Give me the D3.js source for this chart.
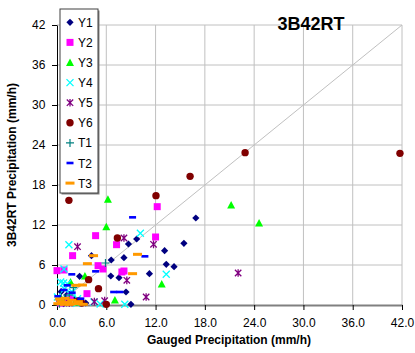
<!DOCTYPE html>
<html>
<head>
<meta charset="utf-8">
<script src="https://cdn.jsdelivr.net/npm/d3@7"></script>
<style>
  body { margin: 0; background: #fff; }
  svg { font-family: Arial, "Liberation Sans", sans-serif; }
</style>
</head>
<body>
<svg width="415" height="353"></svg>
<script>
// tick labels
var xTicks = [0, 6, 12, 18, 24, 30, 36, 42];
var yTicks = [0, 6, 12, 18, 24, 30, 36, 42];

// series values, [gauged, 3B42RT]
var seriesNames = ["Y1", "Y2", "Y3", "Y4", "Y5", "Y6", "T1", "T2", "T3"];
var y1 = [[4.2,7.4],[6.6,6.75],[8.15,7.1],[8.7,9.15],[9.7,9.9],[13.1,8.15],[15.45,9.25],[16.9,13.05],
  [13.3,6.1],[14.25,5.75],[11.25,4.7],[2.75,4.3],[6.55,4.35],[7.55,4.1],[8.4,1.95],[9.0,0.1],
  [0.3,0.6],[1.2,1.5],[0.8,0.2],[2.1,0.9],[3.5,0.3],[0.5,2.0]];
var y2 = [[12.2,14.75],[4.7,10.4],[12.0,10.2],[7.25,9.05],[1.9,7.4],[5.0,5.9],[5.6,5.4],[0.0,5.15],
  [0.85,5.25],[7.9,4.95],[8.15,5.1],[3.65,1.7],[1.0,0.6],[1.6,1.2],[0.4,0.3]];
var y3 = [[6.2,15.85],[6.0,11.75],[21.2,15.0],[24.6,12.3],[12.75,3.15],[3.4,4.35],[1.65,3.45],[7.05,0.75],
  [0.5,1.0],[0.3,0.5],[2.2,0.4]];
var y4 = [[1.45,9.05],[10.15,10.75],[13.3,4.6],[8.25,0.1],[0.85,5.4],[0.8,3.3],[0.45,3.45],[1.25,3.2],
  [1.85,1.95],[0.05,1.2],[2.5,0.95],[4.5,0.45],[1.6,1.8],[2.4,0.25],[5.25,0.15],[0.9,2.4]];
var y5 = [[2.5,8.75],[8.15,10.05],[11.75,9.1],[8.5,3.7],[10.85,1.2],[22.05,4.8],[4.55,0.5],[5.8,0.65],[1.5,0.3]];
var y6 = [[1.45,15.7],[7.35,10.05],[12.05,16.4],[16.2,19.3],[22.9,22.85],[41.75,22.75],[3.85,3.8],[5.05,2.45],
  [6.0,0.1],[3.0,0.3],[2.6,0.6]];
var t1 = [[5.9,6.3],[2.0,2.6],[0.9,1.0],[0.3,0.2],[1.5,1.5]];
var t2 = [[9.2,13.15],[10.7,7.3],[4.7,5.05],[1.8,4.6],[6.9,1.95],[7.65,1.95],[0.1,1.3],[1.85,1.85],
  [0.85,2.25],[2.9,0.95],[1.25,2.95]];
var t3 = [[4.45,7.4],[9.8,7.6],[3.7,6.2],[9.2,4.7],[3.1,3.0],[2.3,2.95],[0.1,0.2],[0.5,0.5],[0.9,0.1],
  [1.3,0.4],[1.8,0.7],[2.2,0.2],[2.6,0.5],[0.3,0.9],[1.0,1.0],[3.2,0.1],[1.6,0.1]];
var seriesData = [y1, y2, y3, y4, y5, y6, t1, t2, t3];
var seriesColors = ["#000080", "#ff00ff", "#00ff00", "#00ffff", "#800080", "#800000", "#008080", "#0000ff", "#ff9900"];
var seriesMarkers = ["diamond", "square", "triangle", "x", "star", "circle", "plus", "dash", "bigdash"];

var svg = d3.select("svg");
var margin = {top: 25, right: 13, bottom: 48, left: 57};
var width = 415 - margin.left - margin.right;
var height = 353 - margin.top - margin.bottom;

var x = d3.scaleLinear().domain([0, 42]).range([0, width]);
var y = d3.scaleLinear().domain([0, 42]).range([height, 0]);

var g = svg.append("g").attr("transform", "translate(" + margin.left + "," + margin.top + ")");

// gridlines
g.selectAll(".vgrid").data(xTicks.slice(1)).enter().append("line")
  .attr("x1", function(d) { return x(d); }).attr("x2", function(d) { return x(d); })
  .attr("y1", 0).attr("y2", height)
  .attr("stroke", "#c0c0c0").attr("stroke-width", 1);
g.selectAll(".hgrid").data(yTicks.slice(1)).enter().append("line")
  .attr("x1", 0).attr("x2", width)
  .attr("y1", function(d) { return y(d); }).attr("y2", function(d) { return y(d); })
  .attr("stroke", "#c0c0c0").attr("stroke-width", 1);

// 1:1 line
g.append("line")
  .attr("x1", x(0)).attr("y1", y(0)).attr("x2", x(42)).attr("y2", y(42))
  .attr("stroke", "#c0c0c0").attr("stroke-width", 1);

// axes
var xAxis = g.append("g").attr("transform", "translate(0," + height + ")")
  .call(d3.axisBottom(x).tickValues(xTicks).tickFormat(d3.format(".1f")).tickSize(5).tickSizeOuter(0));
xAxis.select(".domain").attr("stroke", "#808080").attr("stroke-width", 2);
xAxis.selectAll("text").attr("font-size", "12px").attr("fill", "#000").attr("dy", "1.2em");

var yAxis = g.append("g")
  .call(d3.axisLeft(y).tickValues(yTicks).tickSize(5).tickSizeOuter(0));
yAxis.select(".domain").attr("stroke", "#000");
yAxis.selectAll("text").attr("font-size", "12px").attr("fill", "#000").attr("dx", "-0.3em");

function drawMarker(sel, type, color) {
  if (type == "diamond") {
    sel.append("path").attr("d", "M0,-3.6L3.6,0L0,3.6L-3.6,0Z").attr("fill", color);
  } else if (type == "square") {
    sel.append("rect").attr("x", -3.5).attr("y", -3.5).attr("width", 7).attr("height", 7).attr("fill", color);
  } else if (type == "triangle") {
    sel.append("path").attr("d", "M0,-4L4,3.5L-4,3.5Z").attr("fill", color);
  } else if (type == "x") {
    sel.append("path").attr("d", "M-3.5,-3.5L3.5,3.5M3.5,-3.5L-3.5,3.5").attr("stroke", color).attr("stroke-width", 1.3);
  } else if (type == "star") {
    sel.append("path").attr("d", "M-3.2,-3.2L3.2,3.2M3.2,-3.2L-3.2,3.2M0,-3.8L0,3.8").attr("stroke", color).attr("stroke-width", 1.3);
  } else if (type == "circle") {
    sel.append("circle").attr("r", 3.7).attr("fill", color);
  } else if (type == "plus") {
    sel.append("path").attr("d", "M-4,0L4,0M0,-4L0,4").attr("stroke", color).attr("stroke-width", 1.2);
  } else if (type == "dash") {
    sel.append("rect").attr("x", -3.5).attr("y", -1.3).attr("width", 7).attr("height", 2.6).attr("fill", color);
  } else {
    sel.append("rect").attr("x", -4.5).attr("y", -1.5).attr("width", 9).attr("height", 3).attr("fill", color);
  }
}

// points
var plot = g.append("g");
seriesData.forEach(function(data, i) {
  plot.selectAll(".s" + i).data(data).enter().append("g")
    .attr("class", "s" + i)
    .attr("transform", function(d) { return "translate(" + x(d[0]) + "," + y(d[1]) + ")"; })
    .each(function() { drawMarker(d3.select(this), seriesMarkers[i], seriesColors[i]); });
});

// legend
var legend = svg.append("g").attr("transform", "translate(60,9)");
legend.append("rect").attr("x", 1.5).attr("y", 1.5).attr("width", 38).attr("height", 184).attr("fill", "#808080");
legend.append("rect").attr("width", 38).attr("height", 184).attr("fill", "#fff").attr("stroke", "#404040").attr("stroke-width", 1);
seriesNames.forEach(function(name, i) {
  var row = legend.append("g").attr("transform", "translate(10," + (13.3 + i * 20.1) + ")");
  drawMarker(row, seriesMarkers[i], seriesColors[i]);
  row.append("text").attr("x", 8).attr("y", 4.5).attr("font-size", "12px").text(name);
});

// titles
svg.append("text").attr("x", 311).attr("y", 30).attr("text-anchor", "middle")
  .attr("font-size", "18px").attr("font-weight", "bold").text("3B42RT");
svg.append("text").attr("x", 229).attr("y", 344).attr("text-anchor", "middle")
  .attr("font-size", "12px").attr("font-weight", "bold").text("Gauged Precipitation (mm/h)");
svg.append("text").attr("transform", "translate(16,165) rotate(-90)").attr("text-anchor", "middle")
  .attr("font-size", "12px").attr("font-weight", "bold").text("3B42RT Precipitation (mm/h)");
</script>
</body>
</html>
